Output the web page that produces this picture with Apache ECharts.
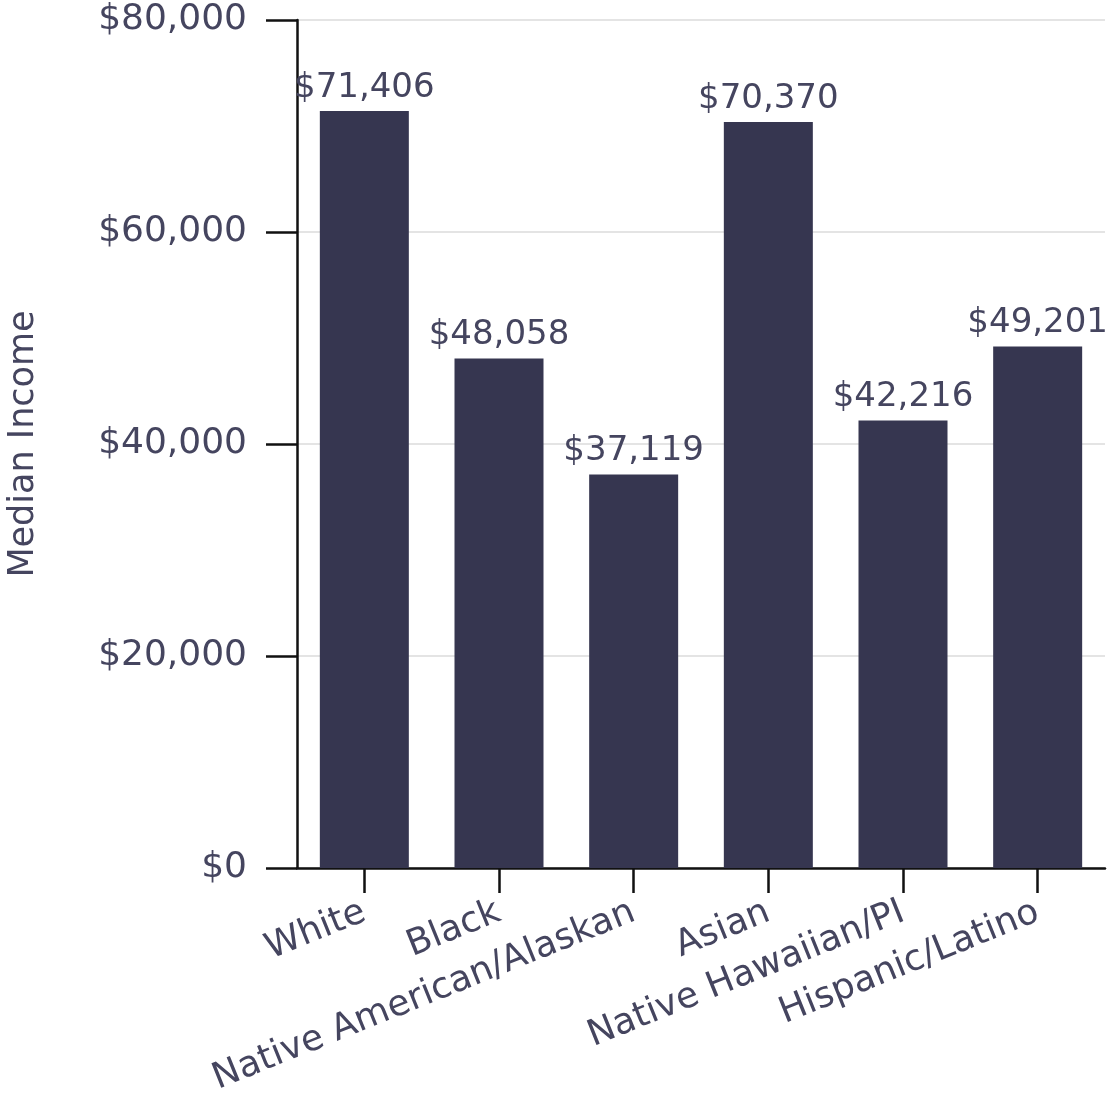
<!DOCTYPE html>
<html>
<head>
<meta charset="utf-8">
<script src="https://cdn.jsdelivr.net/npm/echarts@6/dist/echarts.min.js"></script>
<style>
  html, body { margin: 0; padding: 0; background: #ffffff; }
  #chart { width: 1116px; height: 1112px; }
</style>
</head>
<body>
<div id="chart"></div>
<script>
// Median household income by race / ethnicity
const categories = ['White', 'Black', 'Native American/Alaskan', 'Asian', 'Native Hawaiian/PI', 'Hispanic/Latino'];
const medianIncome = [71406, 48058, 37119, 70370, 42216, 49201];
const yTicks = { min: 0, max: 80000, interval: 20000 };

const textColor = '#45455f';
const barColor = '#363650';
const fontFamily = '"DejaVu Sans", "Noto Sans", sans-serif';

const fmt = v => '$' + v.toLocaleString('en-US');

const chart = echarts.init(document.getElementById('chart'), null, { renderer: 'canvas' });
chart.setOption({
  animation: false,
  backgroundColor: '#ffffff',
  grid: {
    left: 297, right: 11, top: 20, bottom: 244,
    containLabel: false,
    outerBoundsMode: 'none'
  },
  xAxis: {
    type: 'category',
    data: categories,
    axisLine: { show: true, lineStyle: { color: '#111111', width: 2.5 } },
    axisTick: { show: true, alignWithLabel: true, length: 25, lineStyle: { color: '#111111', width: 2.5 } },
    axisLabel: {
      interval: 0,
      rotate: 22,
      margin: 43,
      color: textColor,
      fontSize: 36,
      fontFamily: fontFamily
    },
    splitLine: { show: false }
  },
  yAxis: {
    type: 'value',
    min: yTicks.min,
    max: yTicks.max,
    interval: yTicks.interval,
    name: 'Median Income',
    nameLocation: 'middle',
    nameGap: 256,
    nameRotate: 90,
    nameTextStyle: { color: textColor, fontSize: 35, fontFamily: fontFamily },
    axisLine: { show: true, lineStyle: { color: '#111111', width: 2.5 } },
    axisTick: { show: true, length: 31, lineStyle: { color: '#111111', width: 2.5 } },
    axisLabel: {
      margin: 50,
      color: textColor,
      fontSize: 36,
      fontFamily: fontFamily,
      padding: [7, 0, 0, 0],
      formatter: v => fmt(v)
    },
    splitLine: { show: true, lineStyle: { color: '#e4e4e4', width: 2 } }
  },
  series: [{
    type: 'bar',
    data: medianIncome,
    barWidth: 89,
    itemStyle: { color: barColor },
    label: {
      show: true,
      position: 'top',
      distance: 6,
      color: textColor,
      fontSize: 34,
      fontFamily: fontFamily,
      formatter: p => fmt(p.value)
    }
  }]
});
</script>
</body>
</html>
